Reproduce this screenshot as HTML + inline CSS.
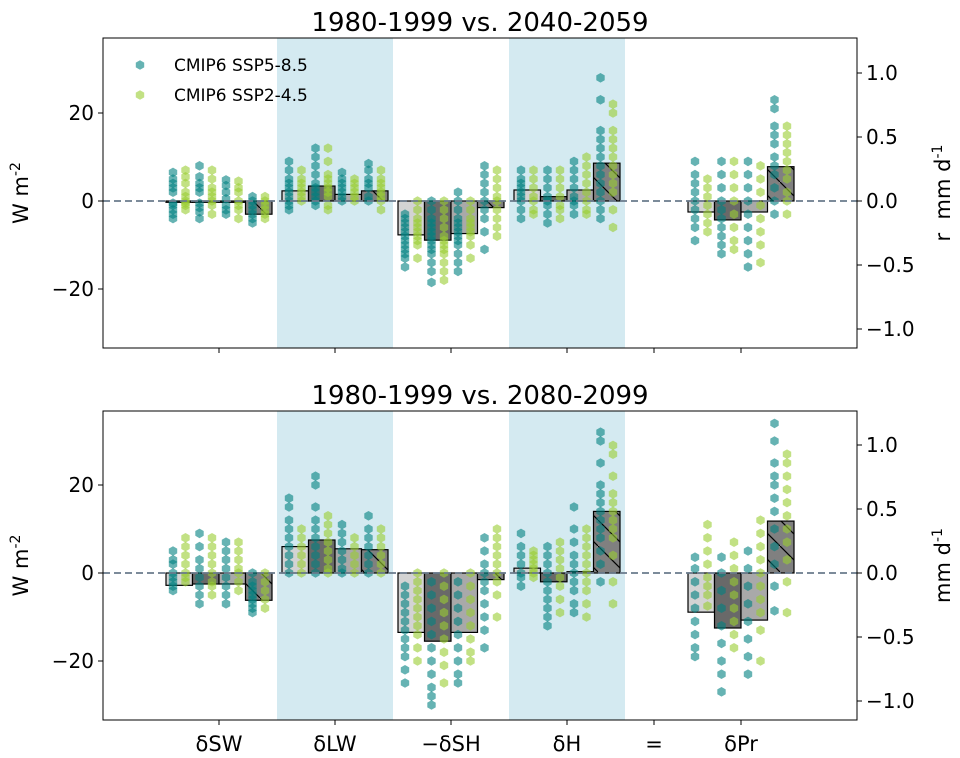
<!DOCTYPE html>
<html><head><meta charset="utf-8"><style>
html,body{margin:0;padding:0;background:#fff;}
svg{display:block;font-family:"DejaVu Sans","Liberation Sans",sans-serif;}
</style></head><body>
<svg id="fig" width="960" height="758" viewBox="0 0 960 758" xmlns="http://www.w3.org/2000/svg">
<defs>
<pattern id="hatch" patternUnits="userSpaceOnUse" width="26" height="26">
<path d="M0,0 L26,26" stroke="#000" stroke-width="1.2"/>
</pattern>
</defs>
</svg>
<script>
const groups = ["\u03b4SW","\u03b4LW","\u2212\u03b4SH","\u03b4H","\u03b4Pr"];
const groupTickLabels = ["\u03b4SW","\u03b4LW","\u2212\u03b4SH","\u03b4H","=","\u03b4Pr"];
const leftTicks = [-20,0,20];
const rightTicks = [-1.0,-0.5,0.0,0.5,1.0];
const rightTickLabels = ["\u22121.0","\u22120.5","0.0","0.5","1.0"];
const titles = ["1980-1999 vs. 2040-2059","1980-1999 vs. 2080-2099"];
const barsTop = [[-0.3,-0.3,-0.3,-3],[2.3,3.4,1.5,2.3],[-7.7,-8.9,-7.4,-1.5],[2.5,1,2.5,8.6],[-2.5,-4.3,-2.5,7.8]];
const barsBot = [[-2.8,-2.5,-2.5,-6.2],[6,7.5,5.5,5.3],[-13.5,-15.5,-13.5,-1.5],[1.1,-2,0.3,14],[-8.9,-12.5,-10.7,11.8]];
const tealTop = [
[[6.5,5,4,3,2,-0.5,-1,-2,-3,-4],[8,5.5,4,3,2,-0.5,-1.5,-2.5,-4],[4.8,3.5,2,0.5,-1,-2,-3],[1,0,-1,-2,-3,-4,-5]],
[[9,7,5,4,3,2,1,0,-1,-2],[12,10,8,6,4,3,2,1,0,-1],[6.5,5,4,3,2,1,0],[8.5,7,5,4,3,1,0]],
[[-3,-4,-5,-6,-7,-8,-9,-10,-11,-12,-13,-15],[0,-2,-4,-5,-6,-7,-8,-9,-10,-11,-12,-14,-16,-18.5],[2,0,-2,-4,-5,-6,-7,-8,-9,-10,-12,-14,-16],[8,6,4,2,0,-2,-4,-7,-11]],
[[7,5,4,3,2,1,0,-2,-4],[7,5,3,1,0,-1,-3,-5],[9,7,5,3,1,0,-1,-3],[28,23,16,14,12,10,8,6,4,2,0,-2,-4]],
[[9,6,4,2,0,-2,-4,-6,-9],[9,6,3,0,-2,-4,-6,-8,-10,-12],[9,6,3,0,-3,-6,-9,-12,-15],[23,21,17,15,13,10,8,6,3,0,-3]]];
const greenTop = [
[[7,5.5,4,2,1,0,-0.5,-1,-2],[7,5,3,2,1,0,-1,-3],[4.5,3,2,0,-1,-2,-4],[1,0,-1,-2,-3,-4]],
[[7,5,4,3,2,1,0],[12,9,6,5,4,3,2,1,-1,-2],[5,4,3,2,1,0],[7,5,4,3,2,1,0,-2]],
[[0,-2,-4,-5,-6,-7,-8,-9,-10,-13],[0,-2,-4,-6,-8,-9,-10,-11,-12,-14,-16,-18],[0,-2,-4,-5,-6,-7,-8,-10,-13],[7,5,3,1,0,-2,-4,-6,-8]],
[[7,5,3,1,0,-2,-3],[7,5,3,1,-1,-2,-4],[10,8,6,4,2,0,-2,-3],[22,20,16,14,12,10,8,6,4,2,-2,-6]],
[[5,3,1,-1,-3,-5,-7],[9,6,3,0,-3,-6,-9,-11],[8,5,2,-1,-4,-7,-10,-14],[17,15,13,11,9,7,5,2,0,-3]]];
const tealBot = [
[[5,3,2,0,-1,-2,-3,-4],[9,6,3,1,-1,-3,-5,-7],[7,5,3,1,-1,-3,-5,-7],[0,-2,-3,-4,-5,-6,-7,-8,-9]],
[[17,15,12,10,8,6,4,2,0],[22,20,15,12,10,8,6,4,2,0],[11,9,7,5,3,1,0],[13,10,8,6,4,2,0]],
[[-3,-5,-7,-9,-11,-13,-15,-17,-19,-22,-25],[-2,-5,-8,-11,-14,-17,-20,-23,-26,-28,-30],[-2,-5,-8,-11,-14,-17,-20,-23,-25],[8,5,2,0,-2,-4,-7,-10,-13,-17]],
[[9,6,4,2,0,-1,-3],[6,4,2,0,-2,-4,-6,-8,-10,-12],[15,10,7,4,2,0,-2,-4,-7,-9],[32,30,25,20,18,16,14,12,10,8,5,2,-2]],
[[3.6,1,-2,-5,-8,-11,-14,-17,-19],[3.6,0,-4,-8,-12,-16,-20,-23,-27],[5,1,-3,-7,-11,-15,-19,-23],[34,30,25,22,20,17,14,10,6,2,-3,-8.6]]];
const greenBot = [
[[8,6,4,2,0,-1,-2],[8,6,4,2,0,-2,-3,-5],[7,5,3,1,0,-2,-4],[0,-2,-4,-6,-8]],
[[10,8,6,4,2,0],[13,11,9,7,5,3,1,0],[8,6,4,2,0],[10,8,6,4,2,0]],
[[0,-2,-4,-6,-8,-10,-12,-14,-17,-20],[0,-3,-6,-9,-12,-15,-18,-21,-25],[0,-3,-6,-9,-12,-15,-18,-20],[10,8,6,4,2,0,-2,-5,-10]],
[[5,4,3,2,1,0,-1],[7,5,3,1,-1,-3,-6,-9],[10,8,6,4,2,0,-2,-4,-7,-10],[29,27,22,18,16,14,12,10,8,4,-2,-7]],
[[11,8,5,2,-1,-3,-5,-7.5],[7,4,1,-2,-5,-8,-11,-14,-17],[12,9,6,3,0,-3,-6,-9,-13,-20],[27,25,22,19,16,13,10,7,3,-2,-9]]];

const NS="http://www.w3.org/2000/svg";
const svg=document.getElementById('fig');
function mk(tag,attrs,parent){const e=document.createElementNS(NS,tag);for(const k in attrs)e.setAttribute(k,attrs[k]);(parent||svg).appendChild(e);return e;}
const X0=103,X1=857,PX=4.4,WPERMM=29.09;
const tickX=[219,335,451,567,654,741];
const groupX=[219,335,451,567,741];
const barColors=["#d3d3d3","#696969","#a9a9a9","#808080"];
function hex(cx,cy,r){let p=[];for(let k=0;k<6;k++){const a=Math.PI/6+k*Math.PI/3;p.push((cx+r*Math.cos(a)).toFixed(1)+","+(cy+r*Math.sin(a)).toFixed(1));}return p.join(" ");}

function panel(top,bottom,y0,bars,teal,green,title,pi,rightLabel,showX){
  const g=mk('g',{});
  
  
  const y=v=>y0-v*PX;
  const yr=v=>y0-v*WPERMM*PX;
  [1,3].forEach(i=>{const b=mk('rect',{x:groupX[i]-58,y:top,width:116,height:bottom-top,fill:"#d4eaf1"},g);
    
    });
  bars.forEach((arr,gi)=>arr.forEach((v,bi)=>{
    const left=groupX[gi]-53+26.5*bi;
    const yy=Math.min(y(v),y0),h=Math.abs(y(v)-y0);
    const r=mk('rect',{x:left,y:yy,width:26.5,height:Math.max(h,0.5),fill:barColors[bi],stroke:"#000","stroke-width":1.2},g);
    
    
    if(bi===3){const hr=mk('rect',{x:left,y:yy,width:26.5,height:Math.max(h,0.5),fill:"url(#hatch)",stroke:"none"},g);
      
      }
  }));
  [[teal,"#008080",7],[green,"#9acd32",19.5]].forEach(([data,col,off],si)=>{
    data.forEach((arr,gi)=>arr.forEach((vals,bi)=>{
      const cx=groupX[gi]-53+26.5*bi+off;
      vals.forEach(v=>{const p=mk('polygon',{points:hex(cx,y(v),4.8),fill:col,"fill-opacity":0.6},g);
        
        });
    }));
  });
  const zl=mk('line',{x1:X0,x2:X1,y1:y0,y2:y0,stroke:"#6a7b8c","stroke-width":1.8,"stroke-dasharray":"7,4"},g);
  
  
  const fr=mk('rect',{x:X0,y:top,width:X1-X0,height:bottom-top,fill:"none",stroke:"#000","stroke-width":1},g);
  
  
  leftTicks.forEach(t=>{mk('line',{x1:X0-5,x2:X0,y1:y(t),y2:y(t),stroke:"#000"},g);
    const tx=mk('text',{x:X0-9,y:y(t)+7,"text-anchor":"end","font-size":20},g);
    tx.textContent=t<0?"\u2212"+Math.abs(t):String(t);
    
    });
  rightTicks.forEach((t,i)=>{mk('line',{x1:X1,x2:X1+5,y1:yr(t),y2:yr(t),stroke:"#000"},g);
    const tx=mk('text',{x:X1+9,y:yr(t)+7,"font-size":20},g);
    tx.textContent=rightTickLabels[i];
    
    });
  tickX.forEach((xx,i)=>{mk('line',{x1:xx,x2:xx,y1:bottom,y2:bottom+5,stroke:"#000"},g);
    if(showX){const tx=mk('text',{x:xx,y:bottom+31,"text-anchor":"middle","font-size":21},g);
      tx.textContent=groupTickLabels[i];
      
      }});
  const tt=mk('text',{x:480,y:top-7,"text-anchor":"middle","font-size":26},g);
  tt.textContent=title;
  
  
  const mid=(top+bottom)/2;
  const ll=mk('text',{x:0,y:0,"text-anchor":"middle","font-size":21,transform:`translate(28,${mid}) rotate(-90)`},g);
  ll.innerHTML='W m<tspan dy="-8" font-size="14">-2</tspan>';
  
  
  const rl=mk('text',{x:0,y:0,"text-anchor":"middle","font-size":21,transform:`translate(950,${mid}) rotate(-90)`},g);
  rl.innerHTML=rightLabel+'mm d<tspan dy="-8" font-size="14">-1</tspan>';
  
  
}
panel(38,348,201,barsTop,tealTop,greenTop,titles[0],0,"r\u00a0\u00a0",false);
panel(411,720,573,barsBot,tealBot,greenBot,titles[1],1,"",true);
const lg=mk('g',{});


[["CMIP6 SSP5-8.5","#008080",65],["CMIP6 SSP2-4.5","#9acd32",95]].forEach(([t,c,yy])=>{
  const p=mk('polygon',{points:hex(140,yy,4.8),fill:c,"fill-opacity":0.6},lg);
  
  
  const tx=mk('text',{x:174,y:yy+6,"font-size":17},lg);
  tx.textContent=t;
  
  
});
</script>
</body></html>
